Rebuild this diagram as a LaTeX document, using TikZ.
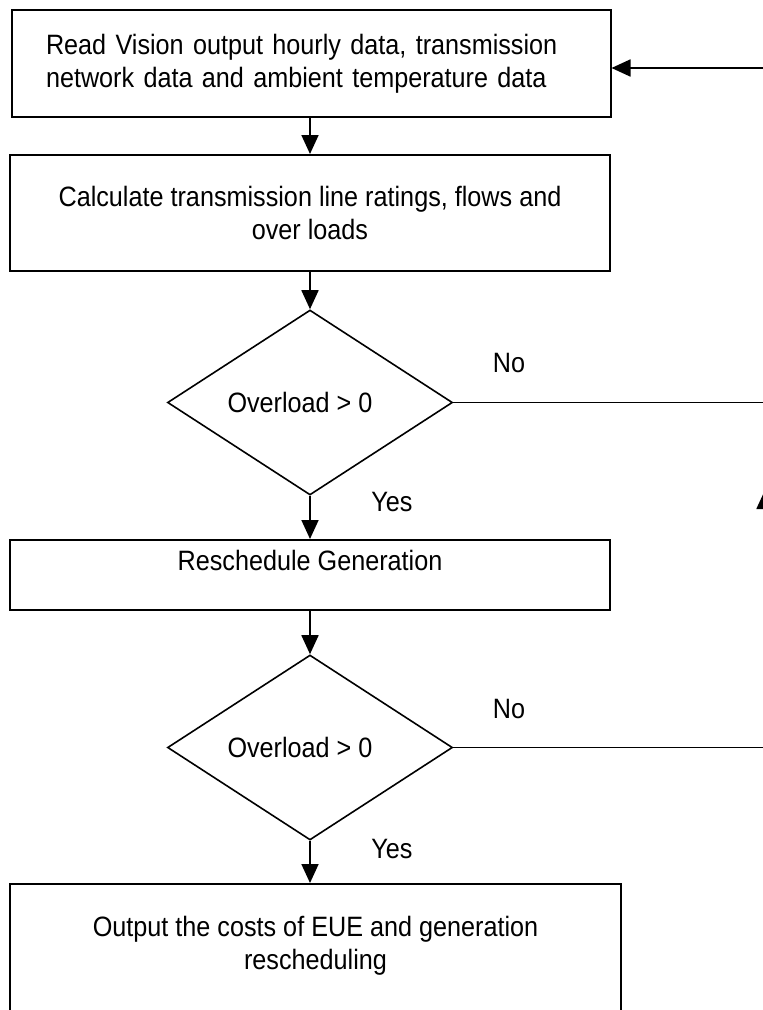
\documentclass[tikz,border=0pt]{standalone}
\usepackage{fontspec}
\setmainfont[FakeStretch=0.9]{Liberation Sans}
\usetikzlibrary{shapes.geometric,arrows.meta}

\begin{document}
\begin{tikzpicture}[x=1pt,y=-1pt,line cap=butt,line join=miter,
    font=\fontsize{28pt}{33pt}\selectfont,
    box/.style={draw,line width=2pt,rectangle,inner sep=0pt},
    decision/.style={draw,line width=1.6pt,diamond,inner sep=0pt,minimum width=285pt,minimum height=185pt},
    flow/.style={line width=1.8pt,-{Triangle[length=19pt,width=17pt]}},
    link/.style={line width=1.8pt}]

  % page
  \fill[white] (0,0) rectangle (763,1010);
  \useasboundingbox (0,0) rectangle (763,1010);

  % boxes and decisions
  \node[box,minimum width=599pt,minimum height=107pt,text width=530pt,align=left] (read) at (311,63.5)
    {Read Vision output hourly data, transmission\\network data and ambient temperature data};
  \node[box,minimum width=600pt,minimum height=116pt,align=center] (calc) at (310,213)
    {Calculate transmission line ratings, flows and\\over loads};
  \node[decision] (ovl1) at (310,402.5) {\hspace*{-20pt}Overload > 0};
  \node[box,minimum width=600pt,minimum height=70pt,text depth=30pt] (resch) at (310,575)
    {Reschedule Generation};
  \node[decision] (ovl2) at (310,747.5) {\hspace*{-20pt}Overload > 0};
  \node[box,minimum width=611pt,anchor=north,inner ysep=32pt,text depth=90pt,align=center] (out) at (315.5,883)
    {Output the costs of EUE and generation\\rescheduling};

  % branch labels
  \node (no1) at (509,363) {No};
  \node (yes1) at (392,502) {Yes};
  \node (no2) at (509,709) {No};
  \node (yes2) at (392,849) {Yes};

  % off-page return path
  \coordinate (rtop) at (765,68);
  \coordinate (rup) at (765,490);

  % main flow
  \draw[flow] (read.south -| calc.north) -- (calc.north);
  \draw[flow] (calc.south) -- (ovl1.north);
  \draw[flow] (ovl1.south) -- (resch.north);
  \draw[flow] (resch.south) -- (ovl2.north);
  \draw[flow] (ovl2.south) -- (ovl2.south |- out.north);

  % no branches back to the top
  \draw[link] (ovl1.east) -- (ovl1.east -| rtop);
  \draw[link] (ovl2.east) -- (ovl2.east -| rtop);
  \draw[flow] (ovl2.east -| rtop) -- (rup);
  \draw[link] (rup) -- (rtop);
  \draw[flow] (rtop) -- (rtop -| read.east);
\end{tikzpicture}
\end{document}
